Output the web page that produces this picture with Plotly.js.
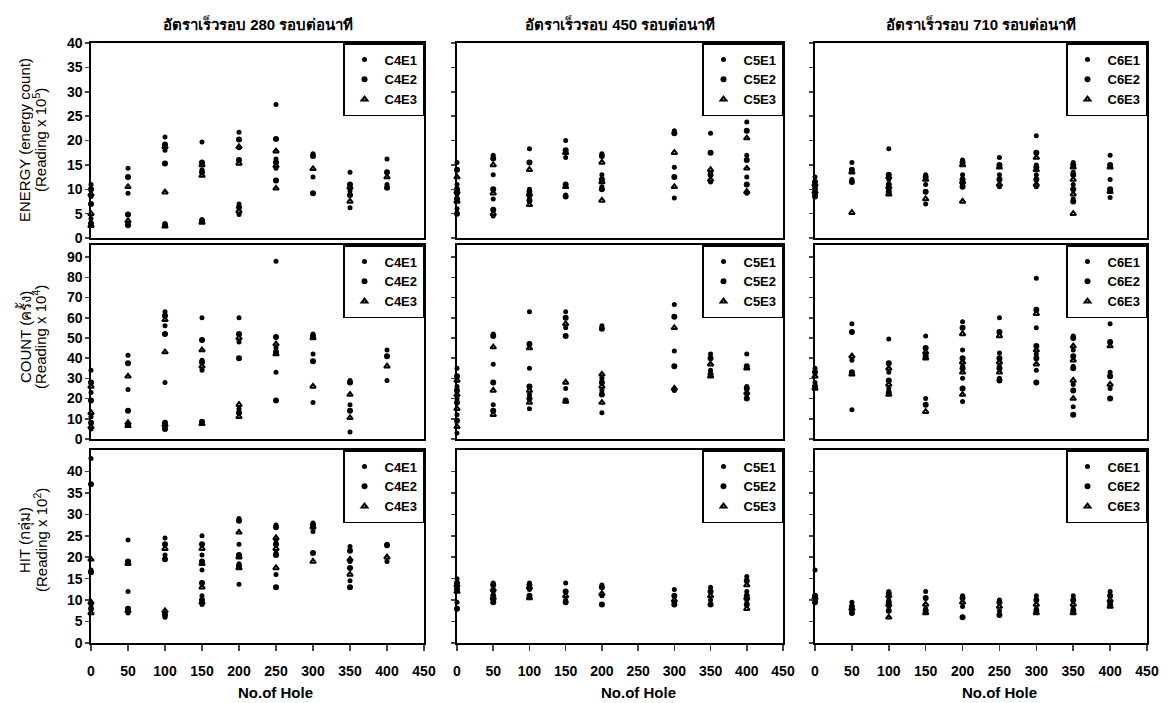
<!DOCTYPE html>
<html><head><meta charset="utf-8">
<script src="https://cdn.plot.ly/plotly-3.0.1.min.js"></script>
<style>html,body{margin:0;padding:0;background:#fff}#chart{width:1168px;height:703px}</style>
</head><body><div id="chart"></div>
<script>
// ---- data ----
const holes = [0, 50, 100, 150, 200, 250, 300, 350, 400];
const xTicks = [0, 50, 100, 150, 200, 250, 300, 350, 400, 450];
const speedTitles = ['อัตราเร็วรอบ 280 รอบต่อนาที', 'อัตราเร็วรอบ 450 รอบต่อนาที', 'อัตราเร็วรอบ 710 รอบต่อนาที'];
const names280 = ['C4E1', 'C4E2', 'C4E3'];
const names450 = ['C5E1', 'C5E2', 'C5E3'];
const names710 = ['C6E1', 'C6E2', 'C6E3'];
const rowTitles1 = ['ENERGY (energy count)', 'COUNT (ครั้ง)', 'HIT (กลุ่ม)'];
const rowTitles2 = ['(Reading x 10<sup>5</sup>)', '(Reading x 10<sup>4</sup>)', '(Reading x 10<sup>2</sup>)'];
const yTicksEnergy = [0, 5, 10, 15, 20, 25, 30, 35, 40];
const yTicksCount = [0, 10, 20, 30, 40, 50, 60, 70, 80, 90];
const yTicksHit = [0, 5, 10, 15, 20, 25, 30, 35, 40];
const xLabel = 'No.of Hole';

// values per hole (same order as holes)
const energy280E1 = [[11,8.5,4],[14.3,9.2,3],[20.7,18,3.0],[19.7,14,3.8],[21.7,18.5,7,4.8],[27.4,16.2,14.3],[17.3,12.5],[13.5,9.7,6.2],[16.2,11]];
const energy280E2 = [[10,7,3],[12.5,4.8,2.6],[19.2,15.3,2.7],[15.5,13.5,3.5],[20.2,16,6.3],[20.3,15.5,11.8],[16.8,9.2],[11,8.8],[13.5,10.3]];
const energy280E3 = [[9,5,2.5],[10.5,3.5],[18.7,9.4,2.4],[15,12.8,3.2],[18.7,15.3,5.5],[17.8,14.8,10.2],[14.2],[10.4,7.5],[12.5]];

const energy450E1 = [[15.5,11,9,6],[17,13,8,4.5],[18.3,10,8.5],[20,16.5,8.8],[17.3,13,10.5],[],[22,14.5,8.2],[21.5,13.5,11.5],[23.8,17,12.5,9.2]];
const energy450E2 = [[14,10,8,5],[16.3,10,5.8],[15.5,9.5,7.7],[18,11,8.5],[16.8,12,10],[],[21.5,12.5],[17.5,13],[22,16,11]];
const energy450E3 = [[12.5,9.5,7.5],[15,9.2,5],[14,9,6.8],[17.5,10.5],[15.5,11.5,7.7],[],[17.5,10.5],[14,12],[20.5,14.3,9.5]];

const energy710E1 = [[12.5,10.5,9],[15.5,12],[18.3,12,10],[13,11,7],[16,13,11],[16.5,13,10.5],[21,15,13,10.5],[15.5,13.5,11,8],[17,12,8.3]];
const energy710E2 = [[11.5,10,8.5],[14,11.5],[13,11,9.5],[12.5,9.5],[15.5,12,10.5],[15,12],[17.5,14.5,12],[15,13,10,7.5],[15,10]];
const energy710E3 = [[11,9.5],[13.5,5.2],[12.5,10.5,9],[12,8],[15,11.5,7.5],[14.5,11],[16.5,14,11],[14.5,12,9,5],[14.5,9.5]];

const count280E1 = [[34,23,11,5],[41.5,24.5,7.5],[63,56,28,6],[60,39,34],[60,48,15],[88,45,33],[52,42,18],[29,17,3.5],[44,29]];
const count280E2 = [[28,19,8],[37.5,14,7],[61,52,8,5],[49,38,8.5],[52,40,13],[50.5,43,19],[51,38.5],[28,14],[41]];
const count280E3 = [[26,13,6],[31,8,6.5],[59,43,7],[44,36,7.5],[50,17,11],[47,42],[50,26],[22,10.5],[36]];

const count450E1 = [[35,26,20,12,3],[52,37,17],[63,35,22,15],[63,55,25],[56,30,24,13],[],[66.5,43.5,24],[42,34],[42,26,22]];
const count450E2 = [[31,24,18,9],[51,28,14],[47,26,20],[60,51,19],[54.5,28,22],[],[60.5,36],[40,32],[36,25,20]];
const count450E3 = [[29,22,15,6],[45.5,24,12],[45,24,18],[57,28,18.5],[32,26,18],[],[55,25],[37,31],[35,23]];

const count710E1 = [[35,28],[57,39,14.5],[49.5,33,25],[51,42,20],[58,44,36,30,18.5],[60,42.5,36,30],[79.5,55,42,34],[51,44,36,27,16],[57,33,25]];
const count710E2 = [[33,26],[53,33],[37.5,29,23],[45,41,17],[55,40,35,25],[53,40,35,29],[64,46,40,28],[50,41,35,24,12],[48,31,20]];
const count710E3 = [[31,25],[41,32],[35,27,22],[43,40,13.5],[52,38,33,22],[51,38,33],[62,44,37],[46,39,29,20],[46,27]];

const hit280E1 = [[43,17,9],[24,12,7],[24.5,20.5,7,6],[25,20.5,17,11,9],[29,23,18.5,13.7],[27.5,24,21,16],[28,26],[22.5,19,14.5],[23,19]];
const hit280E2 = [[37,16.5,8],[19,8],[23,19.5,6.5],[23,19,14,10],[28.5,20.5,18],[27,23,20.5,13],[27.5,21],[21.5,17.5,13],[22.8]];
const hit280E3 = [[19.5,9.5,7],[18.5,7.5],[22,7.5],[22,18.5,13,9.5],[25.8,20,17.5],[24.5,22,17.5],[27,19],[19.5,16],[20]];

const hit450E1 = [[15,13,9.5],[14,12,10],[14,12.5],[14,10],[13.5,11],[],[12.5,9.5],[13,10],[15.5,12,10]];
const hit450E2 = [[14,12.5,8],[13.5,11,9.5],[13.5,11],[12,9.5],[13,9],[],[11,9],[12,9],[14.5,11,9]];
const hit450E3 = [[13.5,12],[12.5,10.5],[13,10.5],[11],[11.5],[],[10],[11],[13.5,10.5,8]];

const hit710E1 = [[17,10],[9.5,7.5],[12,10,8.5],[12,8],[11,8.5],[10,7.5],[11,8],[11,8],[12,9.5]];
const hit710E2 = [[11,9.5],[8.5,7],[11.5,9.5,7.5],[10.5,7.5],[10.5,6],[9.5,6.5],[10,7.5],[10,7.5],[11,9]];
const hit710E3 = [[10.5],[8],[11,9,6],[9,7],[9.5],[8.5],[9,7],[9,7],[10,8.5]];

// ---- panels (row-major) ----
const panels = [
  {series:[energy280E1, energy280E2, energy280E3], names:names280},
  {series:[energy450E1, energy450E2, energy450E3], names:names450},
  {series:[energy710E1, energy710E2, energy710E3], names:names710},
  {series:[count280E1, count280E2, count280E3], names:names280},
  {series:[count450E1, count450E2, count450E3], names:names450},
  {series:[count710E1, count710E2, count710E3], names:names710},
  {series:[hit280E1, hit280E2, hit280E3], names:names280},
  {series:[hit450E1, hit450E2, hit450E3], names:names450},
  {series:[hit710E1, hit710E2, hit710E3], names:names710}
];
const rowRanges = [[0, 40], [0, 96], [0, 45]];
const rowTicks = [yTicksEnergy, yTicksCount, yTicksHit];

// ---- geometry (pixels) ----
const W = 1168, H = 703;
const colPx = [[91, 424], [457, 783], [815, 1147]];
const rowPx = [[43, 238], [245, 439], [450, 643]];
const px = v => v / W, py = v => 1 - v / H;

const markerStyles = [
  {symbol:'circle', size:5, color:'#000'},
  {symbol:'circle', size:6, color:'#000'},
  {symbol:'triangle-up-open', size:5, color:'#000', line:{width:2, color:'#000'}}
];

const FONT = '"Liberation Sans", Arial, "Noto Sans", "DejaVu Sans", sans-serif';
const traces = [];
const layout = {
  width: W, height: H,
  margin: {l:0, r:0, t:0, b:0},
  paper_bgcolor: '#fff', plot_bgcolor: '#fff',
  font: {family: FONT, color: '#000'},
  showlegend: true,
  annotations: []
};

panels.forEach((p, i) => {
  const r = Math.floor(i / 3), c = i % 3;
  const id = i === 0 ? '' : String(i + 1);
  const legId = i === 0 ? 'legend' : 'legend' + (i + 1);
  p.series.forEach((s, k) => {
    const xs = [], ys = [];
    s.forEach((vals, h) => vals.forEach(v => { xs.push(holes[h]); ys.push(v); }));
    traces.push({
      type: 'scatter', mode: 'markers', x: xs, y: ys,
      xaxis: 'x' + id, yaxis: 'y' + id,
      name: p.names[k], legend: legId, cliponaxis: false,
      marker: markerStyles[k]
    });
  });
  const bottom = r === 2;
  layout['xaxis' + id] = {
    domain: [px(colPx[c][0]), px(colPx[c][1])],
    anchor: 'y' + id, range: [0, 450],
    tickmode: 'array', tickvals: xTicks,
    showticklabels: bottom, ticks: bottom ? 'outside' : '', ticklen: 6, tickwidth: 1.5,
    ticklabelstandoff: 9,
    tickfont: {family: FONT, size: 14, weight: 'bold', color: '#000'},
    showline: true, mirror: true, linecolor: '#000', linewidth: 1.6,
    showgrid: false, zeroline: false, fixedrange: true
  };
  layout['yaxis' + id] = {
    domain: [py(rowPx[r][1]), py(rowPx[r][0])],
    anchor: 'x' + id, range: rowRanges[r],
    tickmode: 'array', tickvals: rowTicks[r],
    showticklabels: c === 0, ticks: 'outside', ticklen: 4, tickwidth: 1.5,
    tickfont: {family: FONT, size: 14, weight: 'bold', color: '#000'},
    showline: true, mirror: true, linecolor: '#000', linewidth: 1.6,
    showgrid: false, zeroline: false, fixedrange: true
  };
  layout[legId] = {
    x: px(colPx[c][1]), xanchor: 'right', y: py(rowPx[r][0]), yanchor: 'top',
    bgcolor: '#fff', bordercolor: '#000', borderwidth: 1.5,
    font: {family: FONT, size: 13, weight: 'bold', color: '#000'},
    tracegroupgap: 0
  };
});

// column titles and x labels
speedTitles.forEach((t, c) => {
  const cx = (colPx[c][0] + colPx[c][1]) / 2;
  layout.annotations.push({text: t, x: px(cx), y: py(24), xref: 'paper', yref: 'paper',
    xanchor: 'center', yanchor: 'middle', showarrow: false,
    font: {family: FONT, size: 15, weight: 'bold', color: '#000'}});
  layout.annotations.push({text: xLabel, x: px(cx + 18), y: py(692), xref: 'paper', yref: 'paper',
    xanchor: 'center', yanchor: 'middle', showarrow: false,
    font: {family: FONT, size: 15, weight: 'bold', color: '#000'}});
});
// row titles
const rowTitleCenters = [140, 337, 540];
rowTitles1.forEach((t, r) => {
  layout.annotations.push({text: t, x: px(25), y: py(rowTitleCenters[r]), xref: 'paper', yref: 'paper',
    xanchor: 'center', yanchor: 'middle', textangle: -90, showarrow: false,
    font: {family: FONT, size: 15, color: '#000'}});
  layout.annotations.push({text: rowTitles2[r], x: px(40), y: py(rowTitleCenters[r]), xref: 'paper', yref: 'paper',
    xanchor: 'center', yanchor: 'middle', textangle: -90, showarrow: false,
    font: {family: FONT, size: 15, color: '#000'}});
});

Plotly.newPlot('chart', traces, layout, {displayModeBar: false, staticPlot: true});
</script>
</body></html>
